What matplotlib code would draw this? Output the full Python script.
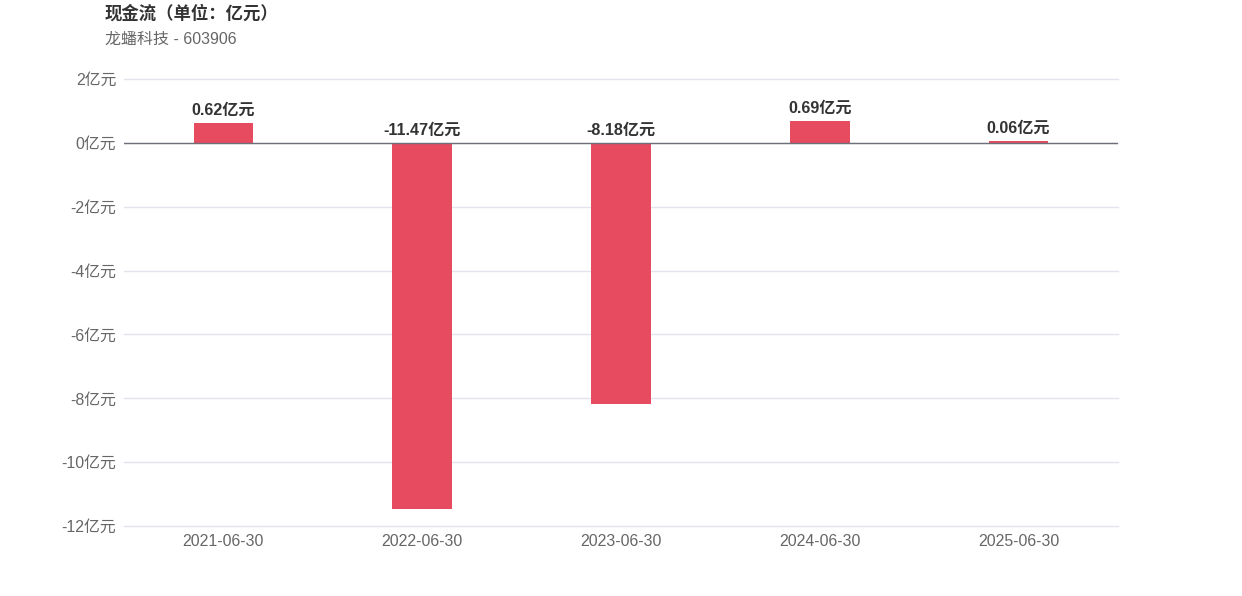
import matplotlib
import numpy as np
from matplotlib import pyplot as plt

matplotlib.use("Agg")

plt.rcParams["font.family"] = ["Liberation Sans", "Noto Sans CJK SC", "DejaVu Sans"]

# 数据
dates = ["2021-06-30", "2022-06-30", "2023-06-30", "2024-06-30", "2025-06-30"]
cash_flow = [0.62, -11.47, -8.18, 0.69, 0.06]
y_ticks = [2, 0, -2, -4, -6, -8, -10, -12]

bar_color = "#e64b5f"
grid_color = "#e3e5ee"
text_color = "#666666"

fig = plt.figure(figsize=(12.42, 5.96), dpi=100)
ax = fig.add_axes([124 / 1242, 1 - 526 / 596, 994 / 1242, 447 / 596])

x = np.arange(len(dates))
ax.bar(x, cash_flow, width=0.3, color=bar_color, zorder=3)

ax.set_xlim(-0.5, len(dates) - 0.5)
ax.set_ylim(-12, 2)
ax.set_yticks(y_ticks)
ax.set_yticklabels([f"{v}亿元" for v in y_ticks])
ax.set_xticks(x)
ax.set_xticklabels(dates)
ax.tick_params(axis="both", length=0, colors=text_color, labelsize=11.4)
ax.tick_params(axis="y", pad=5.5)
ax.tick_params(axis="x", pad=6)
for lbl in ax.get_yticklabels():
    lbl.set_va("center_baseline")

for spine in ax.spines.values():
    spine.set_visible(False)
# 网格线（不裁剪，保证上下边缘的线完整显示）
for yt in y_ticks:
    ax.axhline(yt, color=grid_color, linewidth=1, zorder=0, clip_on=False)
ax.axhline(0, color="#6e7079", linewidth=1, zorder=4)

# 数值标签
for xi, v in zip(x, cash_flow):
    top = max(v, 0)
    ax.annotate(f"{v:.2f}亿元", (xi, top), xytext=(0, 3.5), textcoords="offset points",
                ha="center", va="bottom", fontsize=11.6,
                fontweight="bold", color="#333333", zorder=5)

fig.text(105 / 1242, 1 - 13 / 596, "现金流（单位：亿元）", fontsize=12.5,
         fontweight="bold", color="#333333", va="center", ha="left")
fig.text(105 / 1242, 1 - 39 / 596, "龙蟠科技 - 603906", fontsize=11.5,
         color=text_color, va="center", ha="left")

plt.savefig("out.png", dpi=100)
plt.close("all")
